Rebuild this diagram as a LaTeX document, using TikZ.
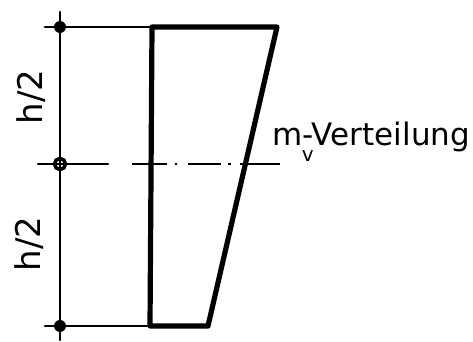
\documentclass[tikz,border=0pt]{standalone}
\usepackage{fontspec}
\setmainfont{DejaVu Sans}
\usetikzlibrary{positioning}
\tikzset{
  % --- lines ---
  thinline/.style={line width=1.3pt, line cap=round},
  thickline/.style={line width=2.6pt, line join=round, line cap=round},
  centerline/.style={line width=1.3pt, dash pattern=on 17.5pt off 4pt on 1.2pt off 5.5pt
                     on 16.5pt off 3.5pt on 1.2pt off 4.5pt on 20pt off 10pt},
  % --- dimension points ---
  dimdot/.style={circle, fill=black, minimum size=6pt, inner sep=0pt},
  middot/.style={circle, draw=black, fill=white, line width=1.8pt,
                 minimum size=5.5pt, inner sep=0pt},
  % --- labels ---
  dimlabel/.style={rotate=90, inner sep=0pt, font=\fontsize{17}{17}\selectfont},
  distlabel/.style={anchor=base west, inner sep=0pt,
                    font=\fontsize{15.5}{16}\selectfont},
}
\begin{document}
\begin{tikzpicture}[x=0.5pt, y=-0.5pt]
  \useasboundingbox (0,0) rectangle (473,342);

  % --- dimension line on the left ---
  \coordinate (dtop) at (60,12);
  \coordinate (dbot) at (60,340);
  \node[dimdot] (p1) at (60,27)  {};
  \node[middot] (p2) at (60,164) {};
  \node[dimdot] (p3) at (60,326) {};
  \draw[thinline] (dtop) -- (dbot);
  \node[dimlabel] (h1) at (31,97)  {h/2};
  \node[dimlabel] (h2) at (29,244) {h/2};

  % --- section outline ---
  \coordinate (a) at (152,27);
  \coordinate (b) at (277,27);
  \coordinate (c) at (208,326);
  \coordinate (d) at (150,326);
  \coordinate (t0) at (45,27);
  \coordinate (b0) at (45,326);
  \draw[thinline] (t0) -- (a);
  \draw[thinline] (b0) -- (d);
  \draw[thickline] (d) -- (a) -- (b) -- (c) -- cycle;

  % --- middle axis ---
  \coordinate (m0) at (38,164);
  \coordinate (m1) at (108,164);
  \coordinate (m2) at (132,164);
  \coordinate (m3) at (280,164);
  \draw[thinline] (m0) -- (m1);
  \draw[centerline] (m2) -- (m3);

  % --- distribution label ---
  \node[distlabel] (mv) at (272,146)
    {m\makebox[0pt][l]{\hspace{-0.3pt}\raisebox{-8pt}{\fontsize{10}{10}\selectfont v}}-Verteilung};
\end{tikzpicture}
\end{document}
